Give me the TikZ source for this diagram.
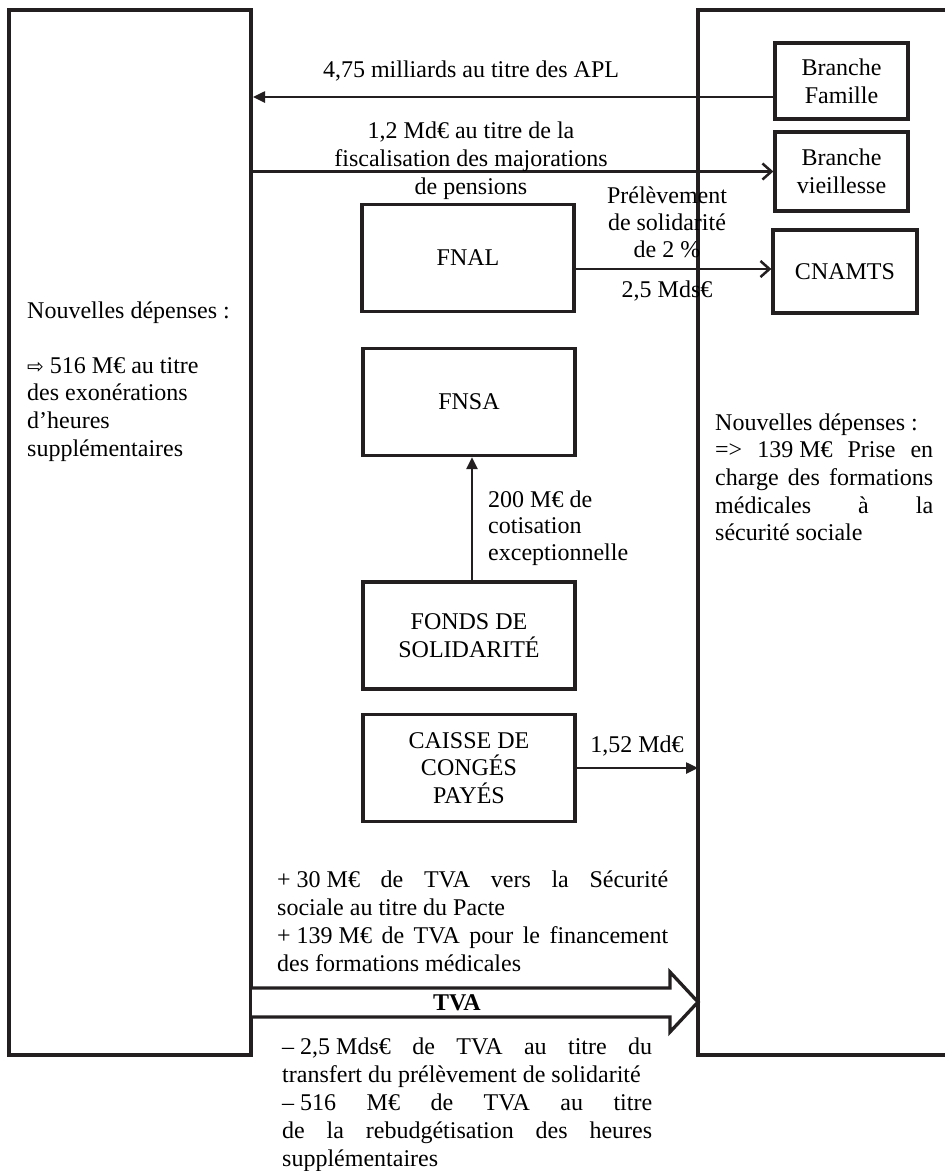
\documentclass[tikz,border=0pt]{standalone}
\usepackage{fontspec}
\setmainfont{Liberation Serif}
\newfontfamily\symfont{DejaVu Sans}
\usetikzlibrary{arrows.meta}
\definecolor{ink}{HTML}{231F20}
% text line helpers: justified, centred, left
\newcommand\lnJ[2]{\hbox{\makebox[#1][s]{#2}}}
\newcommand\lnC[1]{\hbox to 0pt{\hss #1\hss}}
\newcommand\lnL[1]{\hbox{#1}}
\newcommand\nbsp{\hspace*{0.25em}}

\begin{document}
\begin{tikzpicture}[x=1pt,y=-1pt,
  every node/.style={font=\fontsize{24}{27.7}\selectfont, inner sep=0pt, text=black},
  frame/.style={draw=ink, line width=4pt},
  fund/.style={draw=ink, line width=3.3pt, rectangle, minimum width=212pt, minimum height=107pt, align=center},
  branch/.style={draw=ink, line width=3.3pt, rectangle, align=center},
  flow/.style={draw=ink, line width=2.5pt},
  filled/.style={flow, -{Triangle[length=12pt,width=11pt]}},
  barb/.style={flow, -{Straight Barb[length=9pt,width=16pt]}},
  lbl/.style={anchor=base},
  lblw/.style={anchor=base west},
]
\useasboundingbox (0,0) rectangle (945,1171);

% large frames
\node[frame, minimum width=242pt, minimum height=1045pt] (lft) at (130,532.5) {};
\coordinate (rtop) at (698,10);
\coordinate (rbot) at (698,1055);
\draw[frame] (945,10) -- (rtop) -- (rbot) -- (945,1055);

% branches
\node[branch, minimum width=133pt, minimum height=76pt] (fam) at (841.5,81) {Branche\\Famille};
\node[branch, minimum width=133pt, minimum height=79pt] (vie) at (841.5,171.5) {Branche\\vieillesse};
\node[branch, minimum width=144pt, minimum height=83pt] (cnam) at (845,271.5) {CNAMTS};

% funds
\node[fund] (fnal) at (468,258) {FNAL};
\node[fund] (fnsa) at (469,402) {FNSA};
\node[fund] (fonds) at (469,635.5) {FONDS DE\\SOLIDARITÉ};
\node[fund] (caisse) at (469,768) {CAISSE DE\\CONGÉS\\PAYÉS};

% flows
\coordinate (yapl) at (0,97);
\coordinate (ycn) at (0,269);
\draw[filled] (fam.west |- yapl) -- (lft.east |- yapl);
\draw[barb] (lft.east |- vie.west) -- (vie.west);
\draw[barb] (fnal.east |- ycn) -- (cnam.west |- ycn);
\draw[filled] ([xshift=3pt]fonds.north) -- ([xshift=3pt]fnsa.south);
\draw[filled] (caisse.east) -- (caisse.east -| rtop);

% TVA block arrow
\coordinate (tip) at (rtop |- 0,1002);
\fill[white] (252,988) -- (670,988) -- (670,972) -- (tip) -- (670,1032) -- (670,1017) -- (252,1017) -- cycle;
\draw[draw=ink, line width=3.3pt, line join=miter] (251,988) -- (670,988) -- (670,972) -- (tip) -- (670,1032) -- (670,1017) -- (251,1017);
\node[lbl, font=\bfseries\fontsize{24}{27.7}\selectfont] (tvaT) at (457,1010) {TVA};

% labels
\node[lbl] (aplL) at (471,77) {4,75 milliards au titre des APL};
\node[lbl] (vieL) at (471,138) {\vtop{\baselineskip=28pt
  \lnC{1,2 Md€ au titre de la}\lnC{fiscalisation des majorations}\lnC{de pensions}}};
\node[lbl] (prel) at (667,203) {\vtop{\baselineskip=27pt
  \lnC{Prélèvement}\lnC{de solidarité}\lnC{de 2 \%}}};
\node[lbl] (cnL) at (667,297) {2,5 Mds€};
\node[lblw] (cot) at (488,507) {\vtop{\baselineskip=26.8pt
  \lnL{200 M€ de}\lnL{cotisation}\lnL{exceptionnelle}}};
\node[lbl] (cpL) at (637,752) {1,52 Md€};

% expenditure notes
\node[lblw] (ndL) at (27,318) {\vtop{\baselineskip=27.6pt
  \lnL{Nouvelles dépenses :}\lnL{}
  \lnL{{\symfont\fontsize{20}{20}\selectfont ⇨}\nbsp 516 M€ au titre}
  \lnL{des exonérations}\lnL{d’heures}\lnL{supplémentaires}}};
\node[lblw] (ndR) at (715,430) {\vtop{\baselineskip=27.7pt
  \lnL{Nouvelles dépenses :}
  \lnJ{218pt}{=> 139\nbsp M€ Prise en}
  \lnJ{218pt}{charge des formations}
  \lnJ{218pt}{médicales à la}
  \lnL{sécurité sociale}}};

% TVA notes
\node[lblw] (tvaUp) at (277,887) {\vtop{\baselineskip=28pt
  \lnJ{391pt}{+\nbsp 30\nbsp M€ de TVA vers la Sécurité}
  \lnL{sociale au titre du Pacte}
  \lnJ{391pt}{+\nbsp 139\nbsp M€ de TVA pour le financement}
  \lnL{des formations médicales}}};
\node[lblw] (tvaDn) at (282,1054) {\vtop{\baselineskip=28pt
  \lnJ{370pt}{–\nbsp 2,5\nbsp Mds€ de TVA au titre du}
  \lnL{transfert du prélèvement de solidarité}
  \lnJ{370pt}{–\nbsp 516 M€ de TVA au titre}
  \lnJ{370pt}{de la rebudgétisation des heures}
  \lnL{supplémentaires}}};
\end{tikzpicture}
\end{document}
